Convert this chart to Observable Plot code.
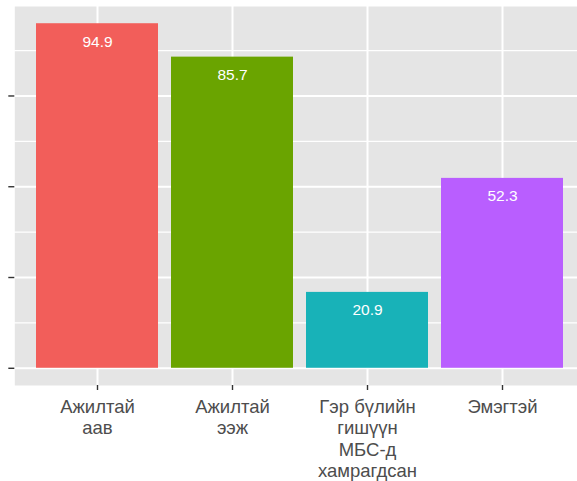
<!DOCTYPE html>
<html>
<head>
<meta charset="utf-8">
<script src="https://cdn.jsdelivr.net/npm/d3@7"></script>
<script src="https://cdn.jsdelivr.net/npm/@observablehq/plot@0.6"></script>
<style>
  html, body { margin: 0; padding: 0; background: white; overflow: hidden; }
</style>
</head>
<body>
<div id="chart"></div>
<script>
const categories = ["Ажилтай аав", "Ажилтай ээж", "Гэр бүлийн гишүүн МБС-д хамрагдсан", "Эмэгтэй"];
const tickLabels = ["Ажилтай\nаав", "Ажилтай\nээж", "Гэр бүлийн\nгишүүн\nМБС-д\nхамрагдсан", "Эмэгтэй"];
const values = [94.9, 85.7, 20.9, 52.3];
const colors = ["#F25E5A", "#6AA400", "#18B2B8", "#B95EFF"];
const majorTicks = [0, 25, 50, 75];
const minorTicks = [12.5, 37.5, 62.5, 87.5];

const data = categories.map((c, i) => ({category: c, value: values[i], label: tickLabels[i], color: colors[i]}));

const plot = Plot.plot({
  width: 577,
  height: 481,
  marginLeft: 14.3,
  marginRight: 0,
  marginTop: 6,
  marginBottom: 96,
  style: {fontFamily: "'Liberation Sans', Arial, sans-serif", background: "white"},
  x: {domain: categories, range: [14.3, 584], paddingInner: 0.1, paddingOuter: 0.15, align: 0.5, label: null},
  y: {domain: [-4.745, 99.645], label: null},
  color: {type: "identity"},
  marks: [
    Plot.frame({fill: "#E5E5E5", stroke: null}),
    Plot.gridY(minorTicks, {stroke: "white", strokeOpacity: 1, strokeWidth: 1.1}),
    Plot.gridY(majorTicks, {stroke: "white", strokeOpacity: 1, strokeWidth: 2}),
    Plot.gridX(categories, {stroke: "white", strokeOpacity: 1, strokeWidth: 2}),
    Plot.barY(data, {x: "category", y: "value", fill: "color"}),
    Plot.text(data, {x: "category", y: "value", text: d => d.value.toFixed(1), fill: "white", fontSize: 15.5, dy: 18}),
    Plot.axisY(majorTicks, {tickFormat: () => "", tickSize: 6, stroke: "#333333", strokeWidth: 1.4, label: null}),
    Plot.axisX(categories, {tickFormat: () => "", tickSize: 5, stroke: "#333333", strokeWidth: 1.4, label: null}),
    Plot.text(data, {x: "category", frameAnchor: "bottom", text: "label", lineAnchor: "top", dy: 12.3, fontSize: 18.5, lineHeight: 1.155, fill: "#4D4D4D"})
  ]
});
document.getElementById("chart").appendChild(plot);
</script>
</body>
</html>
